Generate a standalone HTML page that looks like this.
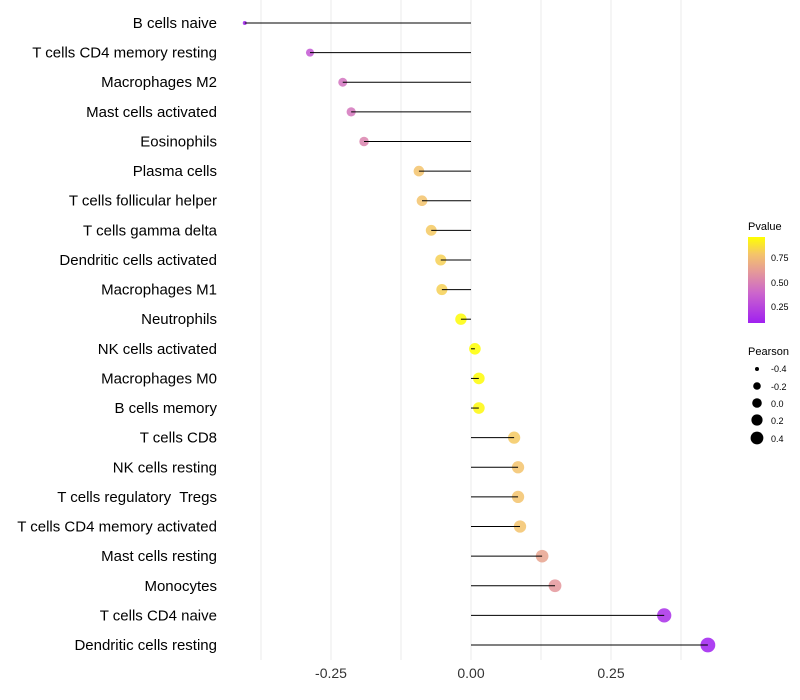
<!DOCTYPE html>
<html><head><meta charset="utf-8"><style>
body{margin:0;background:#fff;}
svg{display:block;font-family:"Liberation Sans",Arial,sans-serif;}
text{white-space:pre;}
</style></head><body>
<svg id="chart" width="800" height="700">
<defs><linearGradient id="pg" x1="0" y1="1" x2="0" y2="0">
<stop offset="0" stop-color="#A020F0"/><stop offset="0.35" stop-color="#CC66CC"/><stop offset="0.6" stop-color="#E59A98"/><stop offset="0.8" stop-color="#F4C46A"/><stop offset="1" stop-color="#FFFF00"/>
</linearGradient></defs>
<g id="grid"></g><g id="points"></g><g id="stems"></g><g id="ylabels"></g><g id="xlabels"></g>
<g>
<text x="748" y="230" font-size="11" fill="#000">Pvalue</text>
<rect x="748" y="237" width="17" height="86" fill="url(#pg)"/>
<text x="771" y="261" font-size="9" fill="#000">0.75</text>
<text x="771" y="286" font-size="9" fill="#000">0.50</text>
<text x="771" y="310" font-size="9" fill="#000">0.25</text>
</g>
<g>
<text x="748" y="355" font-size="11" fill="#000">Pearson</text>
<circle cx="757" cy="369" r="2" fill="#000"/><text x="771" y="372" font-size="9">-0.4</text>
<circle cx="757" cy="386" r="3.8" fill="#000"/><text x="771" y="390" font-size="9">-0.2</text>
<circle cx="757" cy="403" r="4.8" fill="#000"/><text x="771" y="407" font-size="9">0.0</text>
<circle cx="757" cy="420" r="5.6" fill="#000"/><text x="771" y="424" font-size="9">0.2</text>
<circle cx="757" cy="438" r="6.4" fill="#000"/><text x="771" y="442" font-size="9">0.4</text>
</g>
</svg>
<script>
const categories=["B cells naive","T cells CD4 memory resting","Macrophages M2","Mast cells activated","Eosinophils","Plasma cells","T cells follicular helper","T cells gamma delta","Dendritic cells activated","Macrophages M1","Neutrophils","NK cells activated","Macrophages M0","B cells memory","T cells CD8","NK cells resting","T cells regulatory  Tregs","T cells CD4 memory activated","Mast cells resting","Monocytes","T cells CD4 naive","Dendritic cells resting"];
const pearson=[-0.404,-0.2875,-0.229,-0.214,-0.191,-0.093,-0.0875,-0.071,-0.054,-0.052,-0.018,0.007,0.014,0.014,0.077,0.084,0.084,0.0875,0.127,0.15,0.345,0.423];
const pvalues=[0.1,0.33,0.45,0.46,0.52,0.78,0.78,0.8,0.82,0.82,0.95,0.96,0.95,0.94,0.8,0.78,0.78,0.78,0.65,0.6,0.15,0.09];
const xTicks=[-0.25,0,0.25];
const xTickLabels=["-0.25","0.00","0.25"];
const minorTicks=[-0.375,-0.125,0.125,0.375];
const NS="http://www.w3.org/2000/svg";
const xS=v=>471+v*560;
const yS=i=>23+i*(622/21);
const pmin=0.09,pmax=0.96;
const stops=[[0,[160,32,240]],[0.35,[204,102,204]],[0.6,[229,154,152]],[0.8,[244,196,106]],[1,[255,255,0]]];
function col(p){let t=Math.max(0,Math.min(1,(p-pmin)/(pmax-pmin)));for(let k=1;k<stops.length;k++){if(t<=stops[k][0]){const a=stops[k-1],b=stops[k];const f=(t-a[0])/(b[0]-a[0]);const c=a[1].map((v,j)=>Math.round(v+(b[1][j]-v)*f));return`rgb(${c})`;}}return"rgb(255,255,0)";}
const rS=v=>2+5.4*Math.sqrt(Math.max(0,(v+0.404)/0.827));
function mk(t,at,parent){const e=document.createElementNS(NS,t);for(const k in at)e.setAttribute(k,at[k]);parent.appendChild(e);return e;}
const grid=document.getElementById('grid');
minorTicks.concat(xTicks).forEach(v=>{const l=mk('line',{x1:xS(v),x2:xS(v),y1:0,y2:660,stroke:'#ebebeb','stroke-width':1},grid);

});
const pts=document.getElementById('points'),stems=document.getElementById('stems'),yl=document.getElementById('ylabels'),xl=document.getElementById('xlabels');
categories.forEach((c,i)=>{
const y=yS(i);
const p=mk('circle',{cx:xS(pearson[i]),cy:y,r:rS(pearson[i]),fill:col(pvalues[i]),'fill-opacity':0.85},pts);


const s=mk('line',{x1:xS(0),x2:xS(pearson[i]),y1:y,y2:y,stroke:'#000','stroke-width':1},stems);


const t=mk('text',{x:217,y:y+5,'text-anchor':'end','font-size':15,fill:'#000'},yl);t.textContent=c;


});
xTicks.forEach((v,i)=>{const t=mk('text',{x:xS(v),y:678,'text-anchor':'middle','font-size':14,fill:'#333'},xl);t.textContent=xTickLabels[i];

});
</script>
</body></html>
